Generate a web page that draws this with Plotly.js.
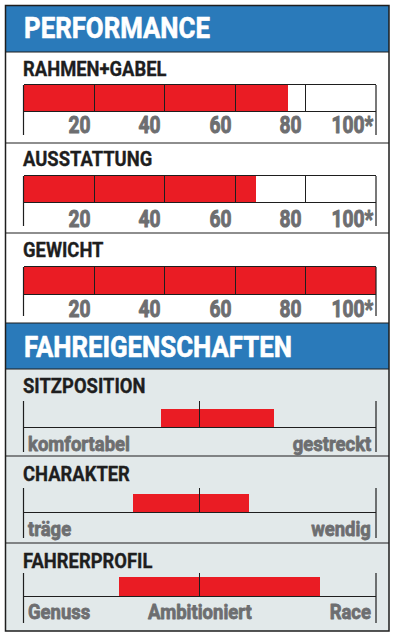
<!DOCTYPE html>
<html>
<head>
<meta charset="utf-8">
<script src="https://cdn.plot.ly/plotly-3.0.1.min.js"></script>
<style>html,body{margin:0;padding:0;background:#fff;}#chart{width:396px;height:636px;}</style>
</head>
<body>
<div id="chart"></div>
<script>
// ---- data ----
var sectionTitles = ['PERFORMANCE', 'FAHREIGENSCHAFTEN'];
var perfCategories = ['RAHMEN+GABEL', 'AUSSTATTUNG', 'GEWICHT'];
var perfValues = [75, 66, 100];
var perfTickVals = [20, 40, 60, 80, 100];
var perfTickLabels = ['20', '40', '60', '80', '100*'];
var fahrCategories = ['SITZPOSITION', 'CHARAKTER', 'FAHRERPROFIL'];
var fahrStart = [39, 31, 27];
var fahrEnd = [71, 64, 84];
var fahrScaleVals = [0, 50, 100];
var fahrScaleLabels = [
  ['komfortabel', '', 'gestreckt'],
  ['träge', '', 'wendig'],
  ['Genuss', 'Ambitioniert', 'Race']
];

// ---- layout geometry (pixels) ----
var W = 396, H = 636;
function X(px) { return px / W; }
function Y(py) { return 1 - py / H; }
var FONT = 'Roboto, "Noto Sans", sans-serif';
var RED = '#ea1c24', BLUE = '#2a7aba', DARK = '#1e1e1e', GREY = '#6d6e70', BG2 = '#e2e9ea';
var axL = 23.5, axR = 376;
// horizontal compression + stroke per text style (emulates a heavy condensed face)
var STYLE = {
  header: {f: 0.89, sw: 0.6},
  label: {f: 0.92, sw: 0.35},
  tick: {f: 0.8, sw: 1.0},
  scale: {f: 0.88, sw: 0.8}
};

var perfGeo = [
  {title: 77, barTop: 85, barBot: 111, labTop: 113, vBot: 135},
  {title: 167, barTop: 176, barBot: 202, labTop: 207, vBot: 226},
  {title: 258, barTop: 267, barBot: 294, labTop: 297, vBot: 316}
];
var fahrGeo = [
  {title: 394, vTop: 401, axisY: 427, barTop: 409, barBot: 429, labTop: 431, vBot: 452},
  {title: 482, vTop: 488, axisY: 512, barTop: 494, barBot: 513, labTop: 516, vBot: 538},
  {title: 569, vTop: 573, axisY: 596, barTop: 577, barBot: 596, labTop: 599, vBot: 623}
];

var traces = [];
var annMeta = [];
var layout = {
  width: W, height: H,
  margin: {l: 0, r: 0, t: 0, b: 0},
  paper_bgcolor: '#ffffff',
  plot_bgcolor: 'rgba(0,0,0,0)',
  showlegend: false,
  bargap: 0,
  shapes: [],
  annotations: []
};

function line(x0, y0, x1, y1, w, c) {
  layout.shapes.push({type: 'line', xref: 'paper', yref: 'paper', x0: X(x0), y0: Y(y0), x1: X(x1), y1: Y(y1),
    line: {color: c || DARK, width: w || 1}, layer: 'above'});
}
function rect(x0, y0, x1, y1, fill) {
  layout.shapes.push({type: 'rect', xref: 'paper', yref: 'paper', x0: X(x0), y0: Y(y0), x1: X(x1), y1: Y(y1),
    fillcolor: fill, line: {width: 0}, layer: 'below'});
}
function addAnn(a, style) {
  layout.annotations.push(a);
  annMeta.push({anchor: a.xanchor, s: STYLE[style], color: a.font.color});
}
function text(t, xpx, ypx, size, color, style) {
  addAnn({text: t, xref: 'paper', yref: 'paper', x: X(xpx), y: Y(ypx), showarrow: false,
    xanchor: 'left', yanchor: 'bottom',
    font: {family: FONT, size: size, color: color, weight: 'bold'}, borderpad: 0}, style);
}

// backgrounds & frame
rect(5, 5, 389, 52, BLUE);
rect(5, 323, 389, 369, BLUE);
rect(5, 369, 389, 631, BG2);
[52, 143, 233, 323, 369, 456, 543].forEach(function (y) { line(5, y, 389, y, 1.2); });
layout.shapes.push({type: 'rect', xref: 'paper', yref: 'paper', x0: X(5.5), y0: Y(5.5), x1: X(389), y1: Y(631),
  line: {color: DARK, width: 1.5}, layer: 'above'});

// section headers
text(sectionTitles[0], 23, 46, 29, '#ffffff', 'header');
text(sectionTitles[1], 23, 365, 29, '#ffffff', 'header');

var n = 1;
// performance bars
perfCategories.forEach(function (cat, i) {
  var g = perfGeo[i];
  var xa = 'xaxis' + (n === 1 ? '' : n), ya = 'yaxis' + (n === 1 ? '' : n);
  var xr = 'x' + (n === 1 ? '' : n), yr = 'y' + (n === 1 ? '' : n);
  traces.push({type: 'bar', orientation: 'h', y: [0], x: [perfValues[i]], base: 0, width: 1,
    xaxis: xr, yaxis: yr, marker: {color: RED, line: {width: 0}}, hoverinfo: 'skip'});
  layout[xa] = {domain: [X(axL), X(axR)], range: [0, 100], anchor: yr, fixedrange: true,
    showgrid: false, zeroline: false, showline: true, mirror: true, linecolor: DARK, linewidth: 1,
    tickvals: perfTickVals.slice(0, -1), ticks: 'inside', ticklen: g.barBot - g.barTop, tickwidth: 1,
    tickcolor: DARK, showticklabels: false};
  layout[ya] = {domain: [Y(g.barBot), Y(g.barTop)], range: [-0.5, 0.5], anchor: xr, fixedrange: true,
    showgrid: false, zeroline: false, showline: false, showticklabels: false, ticks: ''};
  text(cat, 22, g.title + 5, 20, DARK, 'label');
  perfTickVals.forEach(function (v, k) {
    addAnn({text: perfTickLabels[k], xref: xr, yref: 'paper', x: v, y: Y(g.labTop - 3),
      xanchor: 'right', yanchor: 'top', xshift: -2.5, showarrow: false, borderpad: 0,
      font: {family: FONT, size: 24, color: GREY, weight: 'bold'}}, 'tick');
  });
  line(axL, g.barTop, axL, g.vBot, 1.2);
  line(axR, g.barTop, axR, g.vBot, 1.2);
  n++;
});

// fahreigenschaften ranges
fahrCategories.forEach(function (cat, i) {
  var g = fahrGeo[i];
  var xa = 'xaxis' + n, ya = 'yaxis' + n, xr = 'x' + n, yr = 'y' + n;
  var k = 1 / (g.barBot - g.barTop);
  var r0 = -0.5 + (g.barBot - g.axisY) * k;
  var r1 = r0 + (g.axisY - g.vTop) * k;
  traces.push({type: 'bar', orientation: 'h', y: [0], x: [fahrEnd[i] - fahrStart[i]], base: fahrStart[i], width: 1,
    xaxis: xr, yaxis: yr, cliponaxis: false, marker: {color: RED, line: {width: 0}}, hoverinfo: 'skip'});
  layout[xa] = {domain: [X(axL), X(axR)], range: [0, 100], anchor: yr, fixedrange: true,
    showgrid: false, zeroline: false, showline: true, linecolor: DARK, linewidth: 1,
    tickvals: [fahrScaleVals[1]], ticks: 'inside', ticklen: g.axisY - g.vTop, tickwidth: 1,
    tickcolor: DARK, showticklabels: false};
  layout[ya] = {domain: [Y(g.axisY), Y(g.vTop)], range: [r0, r1], anchor: xr, fixedrange: true,
    showgrid: false, zeroline: false, showline: false, showticklabels: false, ticks: ''};
  text(cat, 22, g.title + 5, 20, DARK, 'label');
  var anchors = ['left', 'center', 'right'], shifts = [3.5, 0, -4.5];
  fahrScaleVals.forEach(function (v, j) {
    if (!fahrScaleLabels[i][j]) return;
    addAnn({text: fahrScaleLabels[i][j], xref: xr, yref: 'paper', x: v, y: Y(g.labTop),
      xanchor: anchors[j], yanchor: 'top', xshift: shifts[j], showarrow: false, borderpad: 0,
      font: {family: FONT, size: 21, color: GREY, weight: 'bold'}}, 'scale');
  });
  line(axL, g.vTop, axL, g.vBot, 1.2);
  line(axR, g.vTop, axR, g.vBot, 1.2);
  n++;
});

Plotly.newPlot('chart', traces, layout, {staticPlot: true, displayModeBar: false}).then(function (gd) {
  var groups = gd.querySelectorAll('.annotation');
  groups.forEach(function (grp) {
    var idx = +grp.getAttribute('data-index');
    var meta = annMeta[idx];
    var t = grp.querySelector('.annotation-text');
    if (!t || !meta) return;
    var bb = t.getBBox();
    var f = meta.s.f;
    var ax = meta.anchor === 'left' ? bb.x : (meta.anchor === 'right' ? bb.x + bb.width : bb.x + bb.width / 2);
    t.setAttribute('transform', 'matrix(' + f + ',0,0,1,' + ((1 - f) * ax) + ',0)');
    t.style.stroke = meta.color;
    t.style.strokeWidth = meta.s.sw + 'px';
    t.style.strokeLinejoin = 'round';
  });
});
</script>
</body>
</html>
